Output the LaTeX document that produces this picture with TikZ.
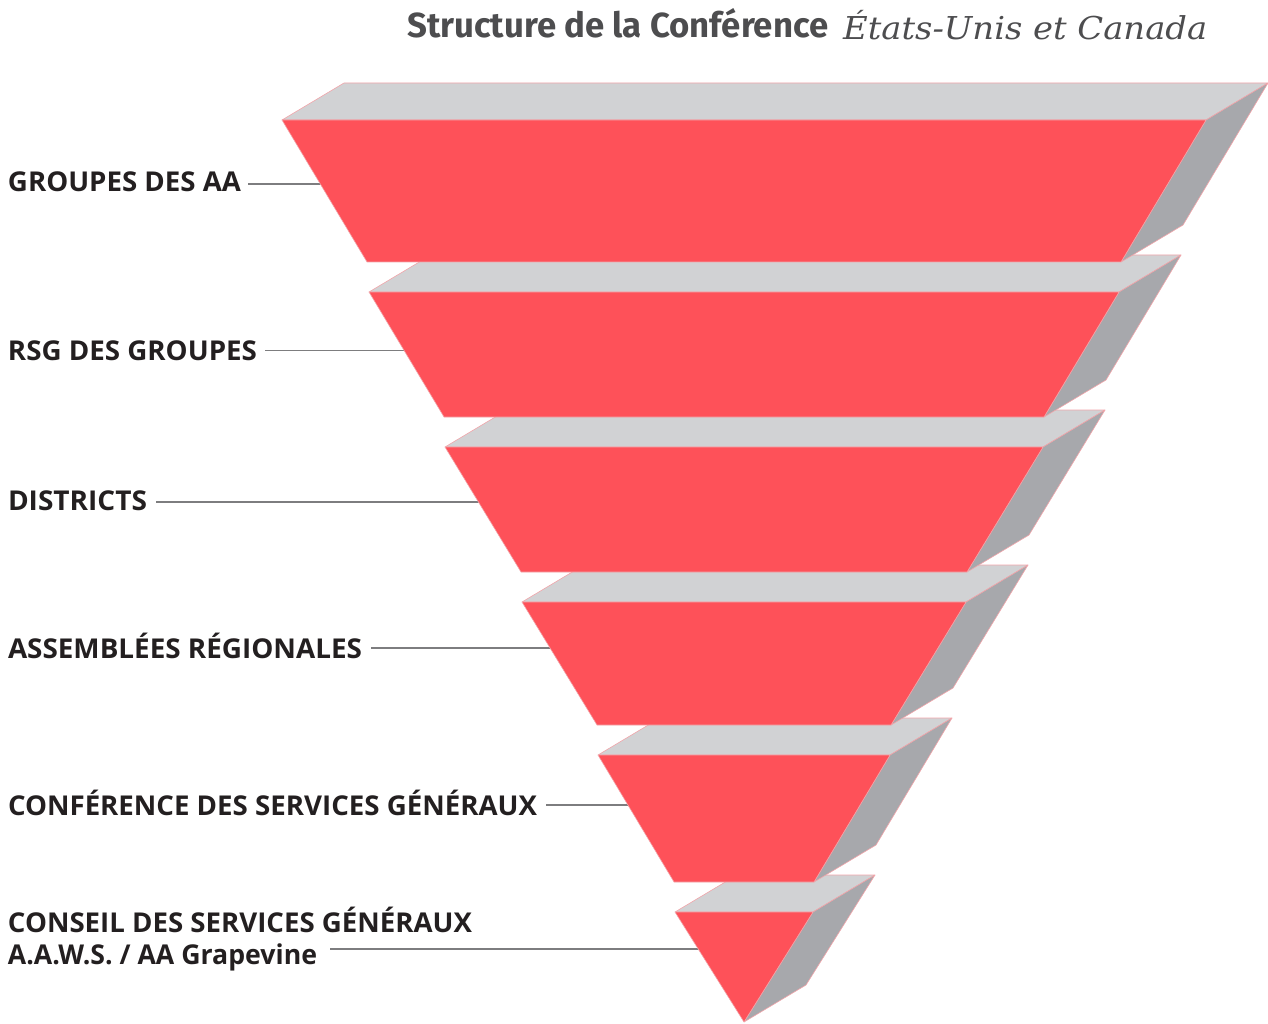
\documentclass[tikz,border=0pt]{standalone}
\usepackage{fontspec}
\usepackage{graphicx}
\newfontfamily\lblfont{Open Sans}
\newfontfamily\ttlfont{Fira Sans}
\newfontfamily\itlfont{DejaVu Serif}
\newcommand\fitw[2]{\resizebox{#1}{\height}{#2}}
\definecolor{redf}{RGB}{254,81,89}
\definecolor{topf}{RGB}{209,210,212}
\definecolor{sidef}{RGB}{167,168,172}
\definecolor{edgec}{RGB}{242,165,170}
\definecolor{guidegray}{RGB}{125,125,127}
\definecolor{lbltext}{RGB}{35,31,32}
\definecolor{ttltext}{RGB}{77,77,79}
\begin{document}
\begin{tikzpicture}[x=1pt,y=-1pt,
  lbl/.style={anchor=base west, inner sep=0pt, outer sep=0pt, text=lbltext,
    font=\lblfont\bfseries\fontsize{27.3}{32}\selectfont},
  guide/.style={draw=guidegray, line width=1.7pt},
  face/.style={draw=edgec, line width=0.6pt, line join=round}]
\useasboundingbox (0,0) rectangle (1268,1024);

% title
\node[anchor=base west, inner sep=0pt, text=ttltext, font=\ttlfont\bfseries\fontsize{34.8}{40}\selectfont]
  (t1) at (407,37.5) {\fitw{421pt}{Structure de la Conférence}};
\node[anchor=base west, inner sep=0pt, text=ttltext, font=\itlfont\itshape\fontsize{31.5}{40}\selectfont]
  (t2) at (843,39.5) {\fitw{364pt}{États-Unis et Canada}};

% labels
\node[lbl] (l1) at (8,192) {\fitw{233pt}{GROUPES DES AA}};
\node[lbl] (l2) at (8,360) {\fitw{249pt}{RSG DES GROUPES}};
\node[lbl] (l3) at (8,510.5) {\fitw{139pt}{DISTRICTS}};
\node[lbl] (l4) at (8,658) {\fitw{354pt}{ASSEMBLÉES RÉGIONALES}};
\node[lbl] (l5) at (8,815.5) {\fitw{529pt}{CONFÉRENCE DES SERVICES GÉNÉRAUX}};
\node[lbl] (l6a) at (8,932) {\fitw{464pt}{CONSEIL DES SERVICES GÉNÉRAUX}};
\node[lbl] (l6b) at (8,964) {\fitw{309pt}{A.A.W.S. / AA Grapevine}};

% guide line ends (inside the slabs)
\coordinate (e1) at (330,184);
\coordinate (e2) at (414,350.5);
\coordinate (e3) at (488,502);
\coordinate (e4) at (560,648);
\coordinate (e5) at (638,805);
\coordinate (e6) at (708,949);

\draw[guide] (l1.east |- e1) ++(7pt,0pt) -- (e1);
\draw[guide] (l2.east |- e2) ++(8pt,0pt) -- (e2);
\draw[guide] (l3.east |- e3) ++(9pt,0pt) -- (e3);
\draw[guide] (l4.east |- e4) ++(9pt,0pt) -- (e4);
\draw[guide] (l5.east |- e5) ++(9pt,0pt) -- (e5);
\draw[guide] (l6b.east |- e6) ++(13pt,0pt) -- (e6);

% slabs, bottom first
\foreach \t/\b/\wt/\wb in {912/1022/69/0, 755/882/146/70, 602/725/222/147,
                           447/572/299/223, 292/417/375/300, 120/262/462/377}{
  \pgfmathsetmacro\xl{744-\wt}
  \pgfmathsetmacro\xr{744+\wt}
  \pgfmathsetmacro\xbl{744-\wb}
  \pgfmathsetmacro\xbr{744+\wb}
  \pgfmathsetmacro\tb{\t-37}
  \pgfmathsetmacro\bb{\b-37}
  \path[face, fill=topf] (\xl,\t) -- (\xr,\t) -- ({\xr+62},\tb) -- ({\xl+62},\tb) -- cycle;
  \path[face, fill=sidef] (\xr,\t) -- ({\xr+62},\tb) -- ({\xbr+62},\bb) -- (\xbr,\b) -- cycle;
  \path[face, fill=redf] (\xl,\t) -- (\xr,\t) -- (\xbr,\b) -- (\xbl,\b) -- cycle;
}
\end{tikzpicture}
\end{document}
